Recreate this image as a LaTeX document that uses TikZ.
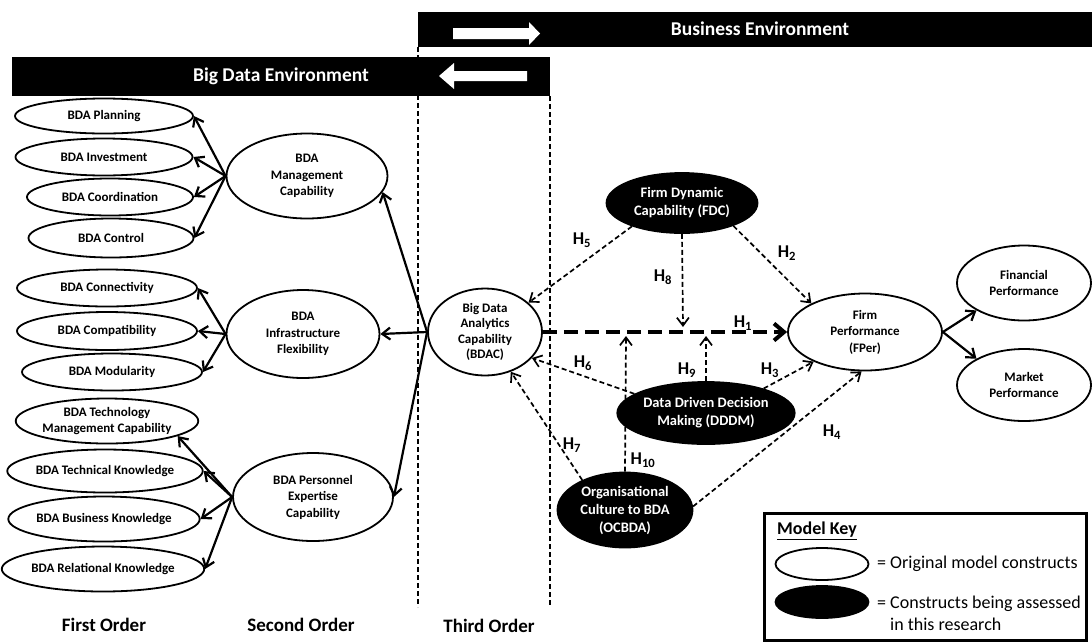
\documentclass[tikz,border=0pt]{standalone}
\usepackage{fontspec}
\setmainfont{Carlito}
\usepackage{tikz}
\usetikzlibrary{arrows.meta}
\usetikzlibrary{shapes.geometric}

\begin{document}
\begin{tikzpicture}[x=1pt,y=-1pt,
  every node/.style={font=\bfseries\fontsize{13}{16.5}\selectfont, align=center, inner sep=0pt},
  oval/.style={ellipse, draw, line width=1.8pt, fill=white},
  blackoval/.style={ellipse, draw, line width=1.8pt, fill=black, text=white, font=\bfseries\fontsize{14.5}{18}\selectfont},
  solidarr/.style={line width=2.2pt, -{Straight Barb[length=8pt,width=12pt]}},
  hyparr/.style={line width=1.7pt, dash pattern=on 5pt off 3pt, -{Straight Barb[length=8pt,width=12pt]}},
  hlab/.style={font=\bfseries\fontsize{18}{20}\selectfont},
  barlab/.style={text=white, font=\bfseries\fontsize{19.5}{22}\selectfont},
  sep/.style={line width=1.4pt, dash pattern=on 5pt off 3pt}
]
\useasboundingbox (0,0) rectangle (1092,641);

% environment bars
\fill (418,12) rectangle (1092,47);
\node[barlab] (busenv) at (760,29) {Business Environment};
\fill[white] (453,28) -- (529,28) -- (529,22) -- (540,33.5) -- (529,45) -- (529,39) -- (453,39) -- cycle;
\fill (12,57) rectangle (550,96);
\node[barlab] (bdenv) at (281,76) {Big Data Environment};
\fill[white] (439,76) -- (454,63) -- (454,71) -- (527,71) -- (527,81) -- (454,81) -- (454,89) -- cycle;
\draw[sep] (418,47) -- (418,607);
\draw[sep] (550,96) -- (550,607);

% first order
\node[oval, minimum width=178pt, minimum height=35pt] (plan) at (104,116) {BDA Planning};
\node[oval, minimum width=177pt, minimum height=37pt] (invest) at (104,157) {BDA Investment};
\node[oval, minimum width=166pt, minimum height=37pt] (coord) at (110,197) {BDA Coordination};
\node[oval, minimum width=165pt, minimum height=39pt] (control) at (111,238) {BDA Control};
\node[oval, minimum width=180pt, minimum height=37pt] (connect) at (107,288) {BDA Connectivity};
\node[oval, minimum width=180pt, minimum height=38pt] (compat) at (107,331) {BDA Compatibility};
\node[oval, minimum width=180pt, minimum height=37pt] (modul) at (112,372) {BDA Modularity};
\node[oval, minimum width=180pt, minimum height=45pt] (techmgmt) at (107,421) {BDA Technology\\Management Capability};
\node[oval, minimum width=180pt, minimum height=43pt] (technical) at (105,471) {BDA Technical Knowledge};
\node[oval, minimum width=182pt, minimum height=45pt] (business) at (104,519) {BDA Business Knowledge};
\node[oval, minimum width=180pt, minimum height=45pt] (relational) at (103,569) {BDA Relational Knowledge};

% second order
\node[oval, minimum width=161pt, minimum height=85pt] (mgmt) at (307,176) {BDA\\Management\\Capability};
\node[oval, minimum width=153pt, minimum height=88pt] (infra) at (303,334) {BDA\\Infrastructure\\Flexibility};
\node[oval, minimum width=160pt, minimum height=88pt] (pers) at (313,497) {BDA Personnel\\Expertise\\Capability};

% third order and outcomes
\node[oval, minimum width=114pt, minimum height=87pt, font=\bfseries\fontsize{13}{15.6}\selectfont] (bdac) at (485,332) {Big Data\\Analytics\\Capability\\(BDAC)};
\node[blackoval, minimum width=151pt, minimum height=60pt] (fdc) at (682,203) {Firm Dynamic\\Capability (FDC)};
\node[blackoval, minimum width=145pt, minimum height=62pt] (dddm) at (706,413) {Data Driven Decision\\Making (DDDM)};
\node[blackoval, minimum width=135pt, minimum height=75pt] (ocbda) at (625,510) {Organisational\\Culture to BDA\\(OCBDA)};
\node[oval, minimum width=154pt, minimum height=77pt] (fper) at (865,332) {Firm\\Performance\\(FPer)};
\node[oval, minimum width=134pt, minimum height=75pt] (fin) at (1024,283) {Financial\\Performance};
\node[oval, minimum width=134pt, minimum height=72pt] (mkt) at (1024,385) {Market\\Performance};

% reflective arrows
\foreach \t in {plan,invest,coord,control}
  \draw[solidarr] (mgmt.west) -- (\t.east);
\foreach \t in {connect,compat,modul}
  \draw[solidarr] (infra.west) -- (\t.east);
\draw[solidarr] (pers.west) -- (techmgmt.-12);
\foreach \t in {technical,business,relational}
  \draw[solidarr] (pers.west) -- (\t.east);
\draw[solidarr] (bdac.west) -- (mgmt.-12);
\draw[solidarr] (bdac.west) -- (infra.east);
\draw[solidarr] (bdac.west) -- (pers.east);
\draw[solidarr] (fper.east) -- (fin.210);
\draw[solidarr] (fper.east) -- (mkt.151);

% hypotheses
\coordinate (h8tip) at (683,327);
\coordinate (h9tip) at (706,336);
\coordinate (h10tip) at (626,336);
\draw[line width=4pt, dash pattern=on 14pt off 7pt, -{Straight Barb[length=10pt,width=17pt]}] (bdac.east) -- (fper.west);
\draw[hyparr] (fdc.-24) -- (fper.152);
\draw[hyparr] (dddm.23) -- (fper.210);
\draw[hyparr] (ocbda.3) -- (fper.265);
\draw[hyparr] (fdc.205) -- (bdac.34);
\draw[hyparr] (dddm.165) -- (bdac.-29);
\draw[hyparr] (ocbda.145) -- (bdac.-57);
\draw[hyparr] (fdc.south) -- (h8tip);
\draw[hyparr] (dddm.north) -- (h9tip);
\draw[hyparr] (ocbda.north) -- (h10tip);
\node[hlab] (h1) at (743,323) {H\textsubscript{1}};
\node[hlab] (h2) at (787,253) {H\textsubscript{2}};
\node[hlab] (h3) at (770,370) {H\textsubscript{3}};
\node[hlab] (h4) at (832,432) {H\textsubscript{4}};
\node[hlab] (h5) at (582,240) {H\textsubscript{5}};
\node[hlab] (h6) at (583,363) {H\textsubscript{6}};
\node[hlab] (h7) at (572,445) {H\textsubscript{7}};
\node[hlab] (h8) at (663,277) {H\textsubscript{8}};
\node[hlab] (h9) at (687,370) {H\textsubscript{9}};
\node[hlab] (h10) at (643,460) {H\textsubscript{10}};

% order labels
\node[font=\bfseries\fontsize{19}{22}\selectfont] (first) at (104,625) {First Order};
\node[font=\bfseries\fontsize{19}{22}\selectfont] (second) at (301,625) {Second Order};
\node[font=\bfseries\fontsize{19}{22}\selectfont] (third) at (489,626) {Third Order};

% model key
\draw[line width=3pt] (764,513) rectangle (1086,640);
\node[anchor=west, font=\bfseries\fontsize{18}{20}\selectfont] (keytitle) at (777,531) {\underline{Model Key}};
\node[oval, minimum width=93pt, minimum height=32pt] (keyorig) at (822,564) {};
\node[blackoval, minimum width=93pt, minimum height=32pt] (keynew) at (822,602) {};
\node[anchor=west, font=\fontsize{18}{22}\selectfont] (keyorigtxt) at (877,564) {= Original model constructs};
\node[anchor=west, align=left, font=\fontsize{18}{22}\selectfont] (keynewtxt) at (877,613) {= Constructs being assessed\\\phantom{= }in this research};
\end{tikzpicture}
\end{document}
